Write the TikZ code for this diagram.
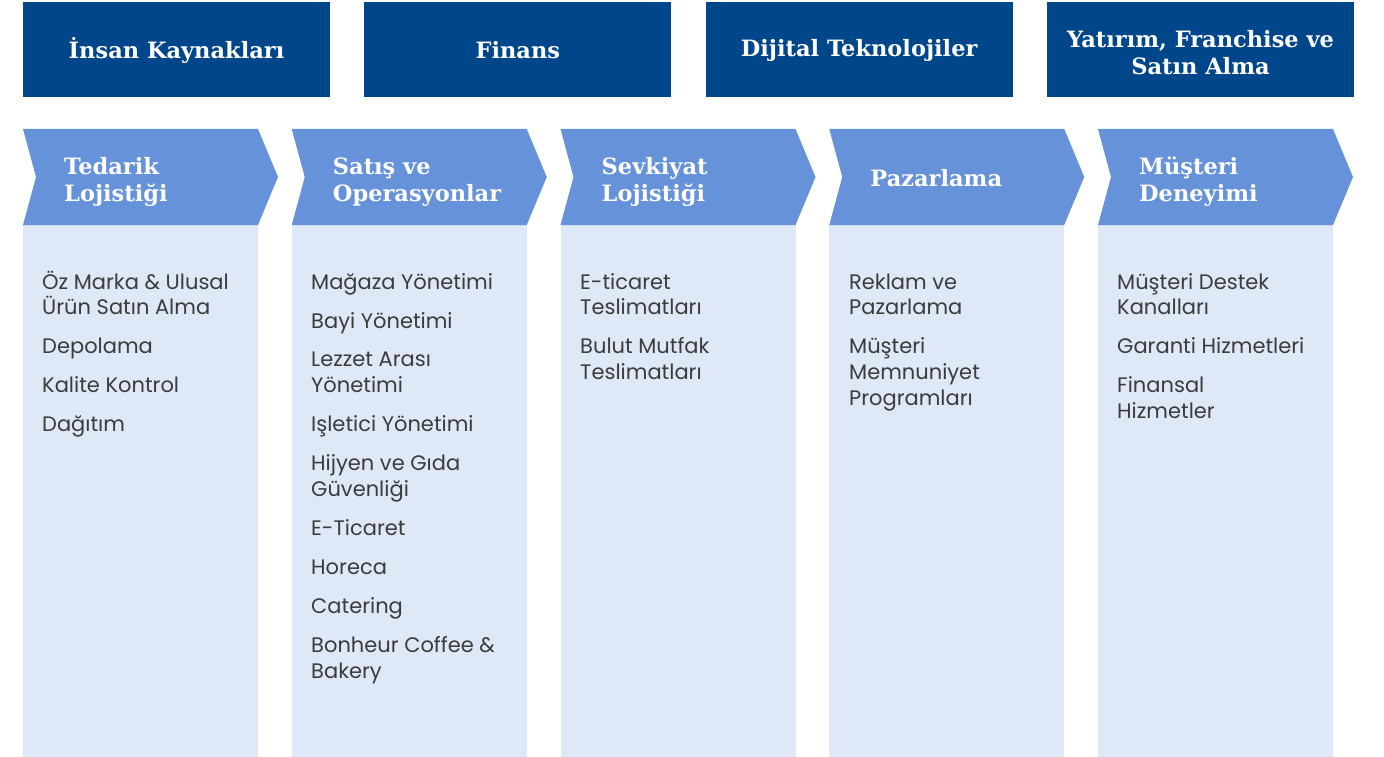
\documentclass[tikz,border=0pt]{standalone}
\usepackage{fontspec}
\setmainfont{DejaVu Serif}
\setsansfont{Poppins}

\definecolor{topblue}{HTML}{00468A}
\definecolor{chevblue}{HTML}{6692D9}
\definecolor{colblue}{HTML}{DFE8F7}
\definecolor{itemgray}{HTML}{3C3C3C}

\tikzset{
  toplabel/.style={text=white, align=center, inner sep=0pt,
    font=\bfseries\fontsize{22.5}{27}\selectfont},
  chevlabel/.style={text=white, anchor=west, align=left, inner sep=0pt,
    font=\bfseries\fontsize{22.5}{27}\selectfont},
  item/.style={anchor=base west, text=itemgray, inner sep=0pt,
    font=\sffamily\fontsize{21}{26}\selectfont}
}

\begin{document}
\begin{tikzpicture}[x=1pt,y=-1pt]
  \useasboundingbox (0,0) rectangle (1384,757);

  % support functions
  \foreach \i/\t/\y in {0/{İnsan Kaynakları}/50,
                        1/Finans/50,
                        2/{Dijital Teknolojiler}/50,
                        3/{Yatırım, Franchise ve\\Satın Alma}/53}
  {
    \fill[topblue] (23+\i*341.33,2) rectangle ++(307,95);
    \node[toplabel] (top\i) at (176.5+\i*341.33,\y) {\t};
  }

  % value chain
  \foreach \i/\t/\y in {0/{Tedarik\\Lojistiği}/182,
                        1/{Satış ve\\Operasyonlar}/182,
                        2/{Sevkiyat\\Lojistiği}/182,
                        3/Pazarlama/178,
                        4/{Müşteri\\Deneyimi}/182}
  {
    \pgfmathsetmacro\cx{23+\i*268.75}
    \fill[colblue] (\cx,225) rectangle (\cx+235,757);
    \fill[chevblue] (\cx,129) -- (\cx+235,129) -- (\cx+255,177)
      -- (\cx+235,225) -- (\cx,225) -- (\cx+13,177) -- cycle;
    \node[chevlabel] (chev\i) at (\cx+41,\y) {\t};
  }

  % items
  \foreach \t/\y [count=\n] in {Öz Marka \& Ulusal/289, Ürün Satın Alma/314,
      Depolama/353, Kalite Kontrol/392, Dağıtım/431}
    \node[item] (a\n) at (42,\y) {\t};

  \foreach \t/\y [count=\n] in {Mağaza Yönetimi/289, Bayi Yönetimi/328,
      Lezzet Arası/366, Yönetimi/392, Işletici Yönetimi/431,
      Hijyen ve Gıda/470, Güvenliği/496, E-Ticaret/535, Horeca/574,
      Catering/613, Bonheur Coffee \&/652, Bakery/678}
    \node[item] (b\n) at (311,\y) {\t};

  \foreach \t/\y [count=\n] in {E-ticaret/289, Teslimatları/314,
      Bulut Mutfak/353, Teslimatları/379}
    \node[item] (c\n) at (580,\y) {\t};

  \foreach \t/\y [count=\n] in {Reklam ve/289, Pazarlama/314,
      Müşteri/353, Memnuniyet/379, Programları/405}
    \node[item] (d\n) at (849,\y) {\t};

  \foreach \t/\y [count=\n] in {Müşteri Destek/289, Kanalları/314,
      Garanti Hizmetleri/353, Finansal/392, Hizmetler/418}
    \node[item] (e\n) at (1117,\y) {\t};
\end{tikzpicture}
\end{document}
